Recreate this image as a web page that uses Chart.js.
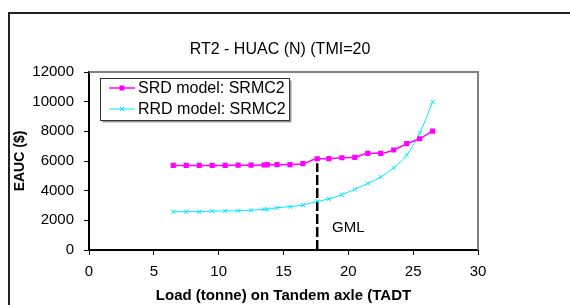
<!DOCTYPE html>
<html>
<head>
<meta charset="utf-8">
<script src="https://cdn.jsdelivr.net/npm/chart.js@4"></script>
<style>
    body { margin: 0; background: #fff; }
    #wrap { position: relative; width: 570px; height: 305px; overflow: hidden; }
    #frame { position: absolute; left: 8px; top: 12px; width: 600px; height: 320px;
             border-left: 2px solid #222; border-top: 2px solid #222; }
    canvas { position: absolute; left: 0; top: 0; }
</style>
</head>
<body>
<div id="wrap">
    <div id="frame"></div>
    <canvas id="eaucChart" width="570" height="305"></canvas>
</div>
<script>
// load on tandem axle (tonne)
const loads = [6.5, 7.5, 8.5, 9.5, 10.5, 11.5, 12.5, 13.5, 13.75, 14.5, 15.5, 16.5, 17.6, 18.5, 19.5, 20.5, 21.5, 22.5, 23.5, 24.5, 25.5, 26.5];
const srdCost = [5700, 5700, 5700, 5700, 5700, 5720, 5720, 5730, 5750, 5750, 5760, 5820, 6150, 6160, 6220, 6250, 6520, 6520, 6740, 7170, 7500, 8020];
const rrdCost = [2580, 2580, 2580, 2620, 2630, 2650, 2680, 2740, 2750, 2850, 2920, 3030, 3280, 3440, 3730, 4090, 4490, 4920, 5550, 6400, 7870, 9980];
const seriesNames = ['SRD model: SRMC2', 'RRD model: SRMC2'];
const xTicks = [0, 5, 10, 15, 20, 25, 30];
const yTicks = [0, 2000, 4000, 6000, 8000, 10000, 12000];
const gmlLoad = 17.6;
const gmlTop = 5850;
const chartTitle = 'RT2 - HUAC (N) (TMI=20';

const FONT = 'Arial, "Liberation Sans", sans-serif';

function toPoints(xs, ys){
    return xs.map((x, i) => ({ x: x, y: ys[i] }));
}

// title, legend box, GML label, grey plot border
const extras = {
    id: 'extras',
    afterDraw(chart){
        const c = chart.ctx;
        const a = chart.chartArea;
        const xs = chart.scales.x, ys = chart.scales.y;

        c.save();
        c.strokeStyle = '#808080';
        c.lineWidth = 2;
        c.beginPath();
        c.moveTo(a.left, a.top);
        c.lineTo(a.right, a.top);
        c.lineTo(a.right, a.bottom);
        c.stroke();

        c.fillStyle = '#000';
        c.font = '16px ' + FONT;
        c.textAlign = 'center';
        c.textBaseline = 'middle';
        c.fillText(chartTitle, 280, 50);

        c.font = '15px ' + FONT;
        c.fillText('GML', xs.getPixelForValue(20), ys.getPixelForValue(1500));

        // legend
        const bx = 100.5, by = 78.5, bw = 189, bh = 42;
        c.fillStyle = '#999';
        c.fillRect(bx + 2, by + 2, bw, bh);
        c.fillStyle = '#fff';
        c.fillRect(bx, by, bw, bh);
        c.strokeStyle = '#333';
        c.lineWidth = 1;
        c.strokeRect(bx, by, bw, bh);

        const rows = [88, 109];
        chart.data.datasets.slice(0, 2).forEach((ds, i) => {
            const y = rows[i];
            c.strokeStyle = ds.borderColor;
            c.lineWidth = ds.borderWidth;
            c.beginPath();
            c.moveTo(109, y);
            c.lineTo(135, y);
            c.stroke();
            if(ds.pointStyle === 'rect'){
                c.fillStyle = ds.borderColor;
                c.fillRect(119.5, y - 2.5, 5, 5);
            } else {
                c.lineWidth = 1;
                c.beginPath();
                c.moveTo(120, y - 2); c.lineTo(124, y + 2);
                c.moveTo(124, y - 2); c.lineTo(120, y + 2);
                c.stroke();
            }
            c.fillStyle = '#000';
            c.font = '16px ' + FONT;
            c.textAlign = 'left';
            c.fillText(ds.label, 138, y + 1);
        });
        c.restore();
    }
};

new Chart(document.getElementById('eaucChart'), {
    type: 'line',
    data: {
        datasets: [{
            label: seriesNames[0],
            data: toPoints(loads, srdCost),
            borderColor: '#ff00ff',
            backgroundColor: '#ff00ff',
            borderWidth: 1.5,
            pointStyle: 'rect',
            pointRadius: 2.6,
            cubicInterpolationMode: 'monotone'
        }, {
            label: seriesNames[1],
            data: toPoints(loads, rrdCost),
            borderColor: '#00e8ff',
            backgroundColor: '#00e8ff',
            borderWidth: 1,
            pointStyle: 'crossRot',
            pointRadius: 3,
            pointBorderWidth: 1,
            cubicInterpolationMode: 'monotone'
        }, {
            label: 'GML',
            data: [{ x: gmlLoad, y: 0 }, { x: gmlLoad, y: gmlTop }],
            borderColor: '#000',
            borderWidth: 2.5,
            borderDash: [10, 3],
            pointRadius: 0
        }]
    },
    options: {
        responsive: false,
        animation: false,
        devicePixelRatio: 1,
        layout: { padding: { top: 72, right: 92, left: 0, bottom: 0 } },
        plugins: {
            legend: { display: false },
            tooltip: { enabled: false }
        },
        scales: {
            x: {
                type: 'linear',
                min: 0,
                max: 30,
                afterBuildTicks: s => { s.ticks = xTicks.map(v => ({ value: v })); },
                afterFit: s => { s.height = 55; },
                grid: { drawOnChartArea: false, tickLength: 5, color: '#000' },
                border: { color: '#000', width: 2 },
                ticks: { color: '#000', padding: 8, font: { size: 15, family: FONT }, maxRotation: 0,
                         callback: v => String(v) },
                title: {
                    display: true,
                    text: 'Load (tonne) on Tandem axle (TADT',
                    color: '#000',
                    font: { size: 15, weight: 'bold', family: FONT },
                    padding: { top: 0, bottom: 0 }
                }
            },
            y: {
                min: 0,
                max: 12000,
                afterBuildTicks: s => { s.ticks = yTicks.map(v => ({ value: v })); },
                afterFit: s => { s.width = 89; },
                grid: { drawOnChartArea: false, tickLength: 5, color: '#000' },
                border: { color: '#000', width: 2 },
                ticks: { color: '#000', padding: 10, font: { size: 15, family: FONT },
                         callback: v => String(v) },
                title: {
                    display: true,
                    text: 'EAUC ($)',
                    color: '#000',
                    font: { size: 14, weight: 'bold', family: FONT },
                    padding: { top: 12, bottom: 0 }
                }
            }
        }
    },
    plugins: [extras]
});
</script>
</body>
</html>
